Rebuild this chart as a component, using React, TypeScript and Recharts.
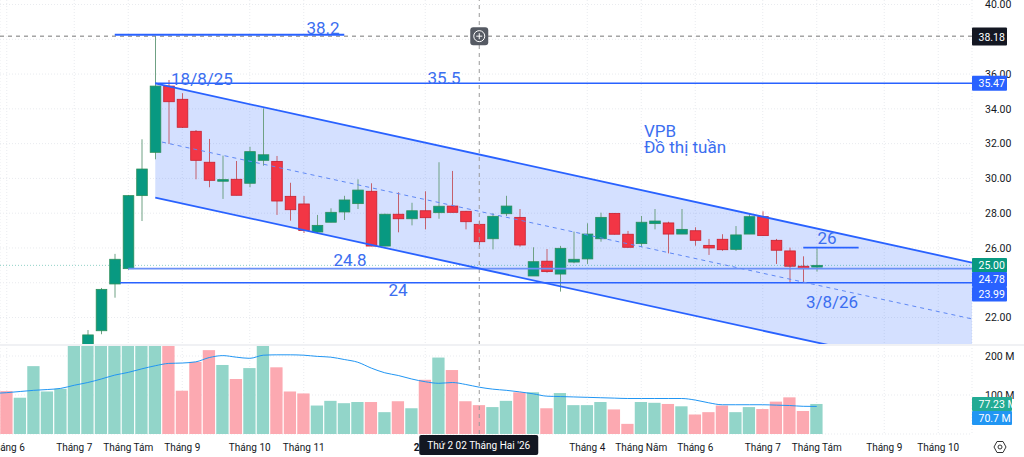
import React from "react";
import {
  ComposedChart, Bar, Line, Area, XAxis, YAxis, CartesianGrid, ReferenceLine, ReferenceDot,
} from "recharts";

// ---- data -----------------------------------------------------------------
const tickIdx = [0, 5, 9, 13, 18, 22, 31, 43, 47, 51, 56, 60, 65, 69];
const tickLabels = ["Tháng 6", "Tháng 7", "Tháng Tám", "Tháng 9", "Tháng 10", "Tháng 11", "2026", "Tháng 4", "Tháng Năm", "Tháng 6", "Tháng 7", "Tháng Tám", "Tháng 9", "Tháng 10"];
const priceTicks = [22, 26, 28, 30, 32, 34, 36, 40];
const priceGridTicks = [22, 24, 26, 28, 30, 32, 34, 36, 38, 40];
const volumeTicks = [100, 200];

// weekly candles, starting at week index 6
const firstCandle = 6;
const opens = [20.4, 21.24, 23.93, 24.81, 29.01, 31.5, 35.31, 34.55, 32.71, 30.93, 29.85, 29.95, 29.72, 31.04, 30.98, 28.97, 28.53, 26.92, 27.48, 28.07, 28.55, 29.26, 26.11, 27.94, 27.68, 28.14, 28.03, 28.41, 28.11, 27.36, 26.53, 27.97, 27.76, 24.39, 25.24, 24.5, 25.19, 25.37, 26.53, 27.99, 26.79, 26.25, 27.4, 27.44, 26.8, 26.99, 26.15, 26.5, 25.92, 26.8, 27.8, 26.44, 25.83, 24.95, 24.9];
const highs = [21.28, 23.7, 25.66, 29.05, 32.25, 38.18, 35.66, 34.9, 32.78, 32.27, 31.31, 31.0, 31.82, 34.03, 31.29, 29.75, 28.99, 27.9, 28.28, 29.0, 29.95, 29.72, 27.97, 29.2, 28.6, 29.26, 30.93, 30.43, 28.13, 27.57, 28.0, 29.0, 28.24, 26.04, 25.94, 26.12, 26.94, 27.42, 28.03, 28.0, 26.98, 27.84, 28.24, 27.51, 28.24, 27.19, 26.52, 26.79, 27.26, 28.0, 28.11, 26.52, 26.02, 25.52, 25.98];
const lows = [20.2, 21.04, 23.14, 24.75, 27.55, 31.1, 31.98, 32.9, 29.95, 29.49, 28.82, 29.03, 29.49, 30.73, 27.9, 27.57, 26.86, 26.86, 27.48, 27.61, 28.24, 26.1, 26.1, 26.9, 27.3, 27.07, 27.68, 28.05, 27.07, 26.17, 25.92, 27.84, 26.07, 24.39, 24.58, 23.49, 25.12, 25.08, 26.36, 26.78, 26.02, 26.04, 27.07, 25.69, 26.8, 26.13, 25.6, 25.84, 25.83, 26.8, 26.7, 25.08, 24.03, 24.03, 24.64];
const closes = [21.0, 23.62, 25.35, 29.01, 30.54, 35.31, 34.41, 32.94, 31.04, 29.89, 29.93, 29.03, 31.54, 31.36, 28.7, 28.2, 27.0, 27.3, 28.05, 28.76, 29.33, 26.11, 27.94, 27.68, 28.14, 27.74, 28.4, 28.05, 27.51, 26.36, 27.82, 28.41, 26.17, 25.21, 24.64, 25.98, 25.35, 26.8, 27.76, 26.79, 26.04, 27.48, 27.55, 26.8, 27.07, 26.44, 26.0, 25.9, 26.75, 27.8, 26.71, 25.87, 24.95, 24.81, 25.0];

// weekly volume in millions, from week index 0; tall bars are cut off by the pane top
const volumes = [110, 93, 174, 109, 116, 228, 228, 228, 228, 228, 228, 228, 228, 111, 185, 215, 177, 141, 169, 228, 171, 109, 104, 73, 85, 79, 82, 82, 56, 84, 66, 139, 196, 164, 84, 74, 69, 85, 107, 107, 66, 105, 74, 74, 82, 63, 26, 82, 80, 77, 71, 50, 56, 73, 56, 69, 64, 83, 94, 59, 77];
const volumeUp = [0, 1, 1, 1, 1, 1, 1, 1, 1, 1, 1, 1, 0, 0, 0, 0, 1, 0, 1, 1, 0, 0, 0, 1, 1, 1, 1, 0, 1, 0, 1, 0, 1, 0, 0, 0, 1, 1, 0, 1, 0, 1, 1, 1, 1, 0, 0, 1, 1, 0, 1, 0, 0, 0, 1, 1, 0, 0, 0, 0, 1];
const volumeMA = [106, 109, 112, 114, 117, 125, 132, 141, 151, 158, 167, 175, 181, 182, 185, 196, 201, 197, 194, 202, 203, 203, 202, 199, 197, 191, 184, 169, 157, 150, 141, 134, 130, 132, 127, 120, 115, 112, 108, 103, 97, 96, 95, 94, 93, 92, 91, 91, 91, 91, 91, 87, 80, 75, 75, 75, 75, 74, 73, 71, 70.7];

// drawings: x in weeks, y in price
const channelBand = [
  { x: 11, band: [28.9, 35.46] },
  { x: 71.5, band: [18.61, 25.16] },
];
const annotations = [
  { x: 23.43, y: 38.65, text: "38.2", anchor: "middle" },
  { x: 14.46, y: 35.72, text: "18/8/25", anchor: "middle" },
  { x: 32.39, y: 35.77, text: "35.5", anchor: "middle" },
  { x: 47.2, y: 32.73, text: "VPB", anchor: "start" },
  { x: 47.2, y: 31.81, text: "Đồ thị tuần", anchor: "start" },
  { x: 25.43, y: 25.31, text: "24.8", anchor: "middle" },
  { x: 28.98, y: 23.58, text: "24", anchor: "middle" },
  { x: 60.76, y: 26.57, text: "26", anchor: "middle" },
  { x: 61.13, y: 22.89, text: "3/8/26", anchor: "middle" },
];
const priceTags = [
  { y: 38.18, text: "38.18", fill: "#131722", h: 18, dy: 0.4 },
  { y: 35.47, text: "35.47", fill: "#2962FF", h: 15, dy: 0 },
  { y: 25.0, text: "25.00", fill: "#089981", h: 14.5, dy: 0 },
  { y: 24.78, text: "24.78", fill: "#2962FF", h: 15, dy: 10.3 },
  { y: 23.99, text: "23.99", fill: "#2962FF", h: 14.5, dy: 11.3 },
];
const volumeTags = [
  { y: 77.23, text: "77.23 M", fill: "#22AB94", dy: 0 },
  { y: 70.7, text: "70.7 M", fill: "#2196F3", dy: 11.6 },
];

const candles = opens.map((open, i) => ({
  x: firstCandle + i, open, high: highs[i], low: lows[i], close: closes[i],
}));
const volumeRows = volumes.map((v, i) => ({ x: i, volume: v, up: volumeUp[i] }));
const maRows = [{ x: -0.5, ma: 105 }, ...volumeMA.map((ma, i) => ({ x: i, ma }))];

// ---- styles ---------------------------------------------------------------
const FONT = "Roboto, sans-serif";
const UP = "#089981";
const DOWN = "#F23645";
const DRAW = "#2962FF";
const TEXTBLUE = "#3B6EF0";
const X_DOMAIN: [number, number] = [-0.5, 71.5];
const CROSS_WEEK = 35;
const TOP_Z = 2000;
const BODY_W = 10.6;
const VOL_W = 12.3;

const Candle = (props: any) => {
  const { x, y, width, height, payload } = props;
  const { open, close, high, low } = payload;
  const k = height / (high - low || 1);
  const up = close >= open;
  const yOf = (v: number) => y + (high - v) * k;
  const top = yOf(Math.max(open, close));
  const h = Math.max(1.6, Math.abs(open - close) * k);
  const cx = x + width / 2;
  return (
    <g>
      <line x1={cx} x2={cx} y1={y} y2={y + height} stroke={up ? "#6FA184" : "#C4606C"} strokeWidth={1} />
      <rect x={cx - BODY_W / 2} y={top} width={BODY_W} height={h} fill={up ? UP : DOWN} stroke={up ? "#2C8F5B" : "#C8202F"} strokeWidth={0.8} />
    </g>
  );
};

const VolumeBar = (props: any) => {
  const { x, y, width, height, payload } = props;
  return <rect x={x + width / 2 - VOL_W / 2} y={y} width={VOL_W} height={height} fill={payload.up ? "#92D5C9" : "#FCA9B1"} />;
};

const tagShape = (t: any, w: number, h: number) => (p: any) => (
  <g>
    <rect x={p.cx} y={p.cy + t.dy - h / 2} width={w} height={h} fill={t.fill} rx={1} />
    <text x={p.cx + 6.5} y={p.cy + t.dy + 0.5} dominantBaseline="central" fill="#fff" fontSize={10.5} fontFamily={FONT}>{t.text}</text>
  </g>
);

const annotationShape = (a: any) => (p: any) => (
  <text x={p.cx} y={p.cy} textAnchor={a.anchor} dominantBaseline="central" fill={TEXTBLUE} fontSize={17} fontFamily={FONT}>{a.text}</text>
);

const crossButton = (p: any) => (
  <g>
    <rect x={p.cx - 9} y={p.cy - 9} width={18} height={18} rx={3} fill="#555a63" />
    <circle cx={p.cx} cy={p.cy} r={5.5} fill="none" stroke="#fff" strokeWidth={1} />
    <path d={`M${p.cx - 3} ${p.cy}H${p.cx + 3}M${p.cx} ${p.cy - 3}V${p.cy + 3}`} stroke="#fff" strokeWidth={1} />
  </g>
);

const dateBox = (p: any) => (
  <g>
    <rect x={p.cx - 60} y={p.cy + 1} width={119} height={20} rx={2} fill="#131722" />
    <text x={p.cx - 0.5} y={p.cy + 11.5} textAnchor="middle" dominantBaseline="central" fill="#fff" fontSize={10} fontFamily={FONT}>Thứ 2 02 Tháng Hai '26</text>
  </g>
);

const XTick = (p: any) => {
  const i = tickIdx.indexOf(p.payload.value);
  return (
    <text x={p.x} y={102} textAnchor="middle" dominantBaseline="central" fill="#131722" fontSize={10} fontFamily={FONT}
      fontWeight={tickLabels[i] === "2026" ? 700 : 400}>{tickLabels[i]}</text>
  );
};

const axisTick = { fill: "#131722", fontSize: 10.5, fontFamily: FONT };
const gridProps = { stroke: "#E9EBEF", strokeDasharray: "1 2" };

export default function App() {
  return (
    <div style={{ position: "absolute", left: 0, top: 0, width: 1024, height: 457, background: "#fff", overflow: "hidden" }}>
      <ComposedChart width={1024} height={345} data={candles} margin={{ top: 0, right: 0, bottom: 0, left: 0 }} style={{ position: "absolute", left: 0, top: 0 }}>
        <CartesianGrid {...gridProps} horizontalValues={priceGridTicks} />
        <XAxis type="number" dataKey="x" domain={X_DOMAIN} ticks={tickIdx} interval={0} allowDataOverflow hide />
        <YAxis orientation="right" width={52} domain={[20.42, 40.26]} ticks={priceTicks} interval={0} allowDataOverflow
          axisLine={false} tickLine={false} tickMargin={7} tick={axisTick} tickFormatter={(v: number) => v.toFixed(2)} />

        <Area data={channelBand} dataKey="band" type="linear" fill={DRAW} fillOpacity={0.2} stroke="none" dot={false} activeDot={false} isAnimationActive={false} />

        <ReferenceLine segment={[{ x: X_DOMAIN[0], y: 25 }, { x: X_DOMAIN[1], y: 25 }]} stroke="#089981" strokeOpacity={0.45} strokeDasharray="1 2" ifOverflow="hidden" />
        <ReferenceLine segment={[{ x: X_DOMAIN[0], y: 38.18 }, { x: X_DOMAIN[1], y: 38.18 }]} stroke="#777" strokeDasharray="4 4" ifOverflow="hidden" />
        <ReferenceLine segment={[{ x: CROSS_WEEK, y: 20.42 }, { x: CROSS_WEEK, y: 40.26 }]} stroke="#999" strokeDasharray="4 4" ifOverflow="hidden" />

        <Bar dataKey={(d: any) => [d.low, d.high]} barSize={10} shape={Candle} isAnimationActive={false} />

        <ReferenceLine segment={[{ x: 8, y: 38.26 }, { x: 25, y: 38.26 }]} stroke={DRAW} strokeWidth={2} ifOverflow="hidden" />
        <ReferenceLine segment={[{ x: 11, y: 35.47 }, { x: 71.5, y: 35.47 }]} stroke={DRAW} strokeWidth={1.6} ifOverflow="hidden" />
        <ReferenceLine segment={[{ x: 9, y: 24.81 }, { x: 71.5, y: 24.81 }]} stroke="#6B90F6" strokeWidth={1.8} ifOverflow="hidden" />
        <ReferenceLine segment={[{ x: 8.4, y: 24.0 }, { x: 71.5, y: 24.0 }]} stroke={DRAW} strokeWidth={1.6} ifOverflow="hidden" />
        <ReferenceLine segment={[{ x: 59, y: 26.02 }, { x: 63.1, y: 26.02 }]} stroke={DRAW} strokeWidth={1.6} ifOverflow="hidden" />
        <ReferenceLine segment={[{ x: 11, y: 35.46 }, { x: 71.5, y: 25.16 }]} stroke={DRAW} strokeWidth={1.8} ifOverflow="hidden" />
        <ReferenceLine segment={[{ x: 11, y: 28.9 }, { x: 71.5, y: 18.61 }]} stroke={DRAW} strokeWidth={1.8} ifOverflow="hidden" />
        <ReferenceLine segment={[{ x: 11.5, y: 32.09 }, { x: 71.5, y: 21.92 }]} stroke="#5F88F5" strokeDasharray="4 4" ifOverflow="hidden" />

        {annotations.map((a) => (
          <ReferenceDot key={a.text} x={a.x} y={a.y} r={0} shape={annotationShape(a)} />
        ))}
        <ReferenceDot x={CROSS_WEEK} y={38.18} r={0} shape={crossButton} />
        {priceTags.map((t) => (
          <ReferenceDot key={t.text} x={X_DOMAIN[1]} y={t.y} r={0} zIndex={TOP_Z} shape={tagShape(t, 35, t.h)} />
        ))}
      </ComposedChart>

      <ComposedChart width={1024} height={112} data={volumeRows} margin={{ top: 0, right: 0, bottom: 0, left: 0 }} style={{ position: "absolute", left: 0, top: 345 }}>
        <CartesianGrid {...gridProps} />
        <XAxis type="number" dataKey="x" domain={X_DOMAIN} ticks={tickIdx} interval={0} allowDataOverflow height={23} axisLine={false} tickLine={false} tick={XTick} />
        <YAxis orientation="right" width={52} domain={[0, 228.2]} ticks={volumeTicks} interval={0} allowDataOverflow
          axisLine={false} tickLine={false} tickMargin={7} tick={axisTick} tickFormatter={(v: number) => `${v} M`} />
        <ReferenceLine segment={[{ x: CROSS_WEEK, y: 0 }, { x: CROSS_WEEK, y: 228.2 }]} stroke="#999" strokeDasharray="4 4" ifOverflow="hidden" />
        <Bar dataKey="volume" barSize={10} shape={VolumeBar} isAnimationActive={false} />
        <Line data={maRows} dataKey="ma" type="monotone" stroke="#2196F3" strokeWidth={1} dot={false} activeDot={false} isAnimationActive={false} />
        {volumeTags.map((t) => (
          <ReferenceDot key={t.text} x={X_DOMAIN[1]} y={t.y} r={0} zIndex={TOP_Z} shape={tagShape(t, 40, 14)} />
        ))}
        <ReferenceDot x={CROSS_WEEK} y={0} r={0} zIndex={TOP_Z} shape={dateBox} />
      </ComposedChart>

      <div style={{ position: "absolute", left: 0, top: 344, width: 1024, height: 2, background: "#F0F1F4" }} />
      <svg width={14} height={14} viewBox="0 0 14 14" style={{ position: "absolute", left: 993, top: 440 }}>
        <path d="M4 1.5H10L13 7L10 12.5H4L1 7Z" fill="none" stroke="#333" strokeWidth={1} />
        <circle cx={7} cy={7} r={2} fill="none" stroke="#333" strokeWidth={1} />
      </svg>
    </div>
  );
}
